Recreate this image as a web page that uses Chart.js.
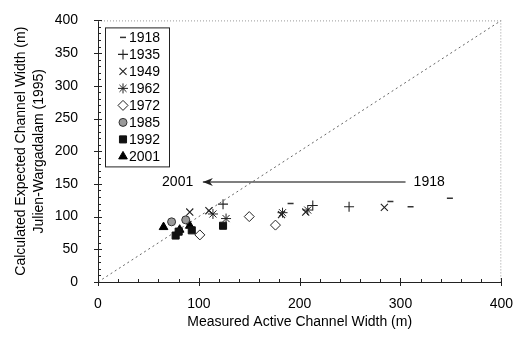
<!DOCTYPE html>
<html lang="en">
<head>
<meta charset="UTF-8">
<title>Active Channel Width</title>
<script src="https://cdn.jsdelivr.net/npm/chart.js"></script>
<style>
  body { margin: 0; background: #fff; }
  #wrap { width: 519px; height: 339px; }
</style>
</head>
<body>
<div id="wrap"><canvas id="widthChart" width="519" height="339"></canvas></div>
<script>
// values: measured width (x) vs calculated width (y), metres
const years = ['1918', '1935', '1949', '1962', '1972', '1985', '1992', '2001'];
const x1918 = [191, 290, 310, 349];
const y1918 = [120, 123, 115, 128];
const x1935 = [124, 213, 249];
const y1935 = [119, 117, 115];
const x1949 = [91, 110, 182, 206, 284];
const y1949 = [107, 109, 103, 107, 114];
const x1962 = [114, 127, 183, 208];
const y1962 = [104, 97, 106, 110];
const x1972 = [101, 150, 176];
const y1972 = [72, 100, 87];
const x1985 = [73, 87];
const y1985 = [92, 95];
const x1992 = [77, 80, 93, 124];
const y1992 = [71, 77, 79, 86];
const x2001 = [65, 81, 91];
const y2001 = [84, 80, 86];

const oneToOne = [0, 400];
const xTicks = [0, 100, 200, 300, 400];
const yTicks = [0, 50, 100, 150, 200, 250, 300, 350, 400];

// arrow annotation (data units)
const arrowY = 153;
const arrowFrom = 305;
const arrowTo = 104;
const labelLeft = { text: '2001', x: 79 };
const labelRight = { text: '1918', x: 313 };

const FONT = "'Liberation Sans', Arial, sans-serif";

function pts(xs, ys) {
    return xs.map((v, i) => ({ x: v, y: ys[i] }));
}

const styles = {
    '1918': { pointStyle: 'line', radius: 3, bg: '#333', border: '#333', bw: 1.5 },
    '1935': { pointStyle: 'cross', radius: 5, bg: '#222', border: '#222', bw: 1.1 },
    '1949': { pointStyle: 'crossRot', radius: 5, bg: '#222', border: '#222', bw: 1.1 },
    '1962': { pointStyle: 'star', radius: 5, bg: '#222', border: '#222', bw: 1 },
    '1972': { pointStyle: 'rectRot', radius: 5, bg: '#fff', border: '#222', bw: 1 },
    '1985': { pointStyle: 'circle', radius: 4, bg: '#9a9a9a', border: '#333', bw: 1 },
    '1992': { pointStyle: 'rect', radius: 5, bg: '#111', border: '#111', bw: 1 },
    '2001': { pointStyle: 'triangle', radius: 5, bg: '#000', border: '#000', bw: 1 }
};

const series = {
    '1918': pts(x1918, y1918),
    '1935': pts(x1935, y1935),
    '1949': pts(x1949, y1949),
    '1962': pts(x1962, y1962),
    '1972': pts(x1972, y1972),
    '1985': pts(x1985, y1985),
    '1992': pts(x1992, y1992),
    '2001': pts(x2001, y2001)
};

const datasets = years.map(yr => ({
    type: 'scatter',
    label: yr,
    data: series[yr],
    pointStyle: styles[yr].pointStyle,
    pointRadius: styles[yr].radius,
    pointBackgroundColor: styles[yr].bg,
    pointBorderColor: styles[yr].border,
    pointBorderWidth: styles[yr].bw,
    order: 0
}));

datasets.push({
    type: 'line',
    label: '1:1',
    data: pts(oneToOne, oneToOne),
    borderColor: '#666',
    borderWidth: 1,
    borderDash: [2, 3],
    pointRadius: 0,
    fill: false,
    order: 10
});

// frame, minor ticks, legend box and arrow
const decorations = {
    id: 'decorations',
    afterDraw(chart) {
        const ctx = chart.ctx;
        const ca = chart.chartArea;
        const xs = chart.scales.x;
        const ys = chart.scales.y;
        ctx.save();

        // dotted top/right frame
        ctx.strokeStyle = '#999';
        ctx.lineWidth = 1;
        ctx.setLineDash([1, 2]);
        ctx.beginPath();
        ctx.moveTo(ca.left, ca.top + 0.5);
        ctx.lineTo(ca.right, ca.top + 0.5);
        ctx.moveTo(ca.right - 0.5, ca.top);
        ctx.lineTo(ca.right - 0.5, ca.bottom);
        ctx.stroke();
        ctx.setLineDash([]);

        // tick marks
        ctx.strokeStyle = '#222';
        ctx.beginPath();
        for (let v = 0; v <= 400; v += 20) {
            const px = Math.round(xs.getPixelForValue(v)) + 0.5;
            const major = v % 100 === 0;
            ctx.moveTo(px, ca.bottom - (major ? 4 : 3));
            ctx.lineTo(px, ca.bottom + (major ? 4 : 0));
        }
        for (let v = 0; v <= 400; v += 10) {
            const py = Math.round(ys.getPixelForValue(v)) + 0.5;
            const major = v % 50 === 0;
            ctx.moveTo(ca.left - (major ? 4 : 0), py);
            ctx.lineTo(ca.left + (major ? 4 : 3), py);
        }
        ctx.stroke();

        // arrow
        const ay = ys.getPixelForValue(arrowY);
        const ax0 = xs.getPixelForValue(arrowFrom);
        const ax1 = xs.getPixelForValue(arrowTo);
        ctx.strokeStyle = '#555';
        ctx.lineWidth = 1.5;
        ctx.beginPath();
        ctx.moveTo(ax0, ay);
        ctx.lineTo(ax1, ay);
        ctx.stroke();
        ctx.fillStyle = '#222';
        ctx.beginPath();
        ctx.moveTo(ax1, ay);
        ctx.lineTo(ax1 + 10, ay - 4);
        ctx.lineTo(ax1 + 7, ay);
        ctx.lineTo(ax1 + 10, ay + 4);
        ctx.closePath();
        ctx.fill();

        ctx.font = '14px ' + FONT;
        ctx.fillStyle = '#000';
        ctx.textBaseline = 'middle';
        ctx.textAlign = 'center';
        ctx.fillText(labelLeft.text, xs.getPixelForValue(labelLeft.x), ay);
        ctx.textAlign = 'left';
        ctx.fillText(labelRight.text, xs.getPixelForValue(labelRight.x), ay);

        // legend
        const bx = ca.left + 7.5, by = ca.top + 7.5;
        ctx.fillStyle = '#fff';
        ctx.fillRect(bx, by, 64, 139);
        ctx.strokeStyle = '#222';
        ctx.lineWidth = 1;
        ctx.strokeRect(bx, by, 64, 139);
        years.forEach((yr, i) => {
            const s = styles[yr];
            const my = ca.top + 17 + 17 * i;
            const mx = ca.left + 25;
            ctx.fillStyle = s.bg;
            ctx.strokeStyle = s.border;
            ctx.lineWidth = s.bw;
            Chart.helpers.drawPoint(ctx, {
                pointStyle: s.pointStyle,
                radius: s.radius,
                rotation: 0,
                borderWidth: s.bw
            }, mx, my);
            ctx.fillStyle = '#000';
            ctx.textAlign = 'left';
            ctx.textBaseline = 'middle';
            ctx.fillText(yr, ca.left + 31, my + 1);
        });
        ctx.restore();
    }
};

new Chart(document.getElementById('widthChart'), {
    data: { datasets: datasets },
    options: {
        responsive: false,
        animation: false,
        layout: { padding: { top: 16, right: 8, left: 0, bottom: 0 } },
        plugins: {
            legend: { display: false },
            tooltip: { enabled: false }
        },
        scales: {
            x: {
                type: 'linear',
                min: 0,
                max: 400,
                afterBuildTicks: s => { s.ticks = xTicks.map(v => ({ value: v })); },
                afterFit: s => { s.height = 57; },
                grid: { display: false },
                border: { display: true, color: '#222', width: 1 },
                ticks: { color: '#000', padding: 6, font: { family: FONT, size: 14 } },
                title: {
                    display: true,
                    text: 'Measured Active Channel Width (m)',
                    color: '#000',
                    font: { family: FONT, size: 14 },
                    padding: { top: 0, bottom: 8 }
                }
            },
            y: {
                type: 'linear',
                min: 0,
                max: 400,
                afterBuildTicks: s => { s.ticks = yTicks.map(v => ({ value: v })); },
                afterFit: s => { s.width = 98; },
                grid: { display: false },
                border: { display: true, color: '#222', width: 1 },
                ticks: { color: '#000', padding: 12, font: { family: FONT, size: 14 } },
                title: {
                    display: true,
                    text: ['Calculated Expected Channel Width (m)', 'Julien-Wargadalam (1995)'],
                    color: '#000',
                    font: { family: FONT, size: 14, lineHeight: 1.3 },
                    padding: { top: 12, bottom: 0 }
                }
            }
        }
    },
    plugins: [decorations]
});
</script>
</body>
</html>
